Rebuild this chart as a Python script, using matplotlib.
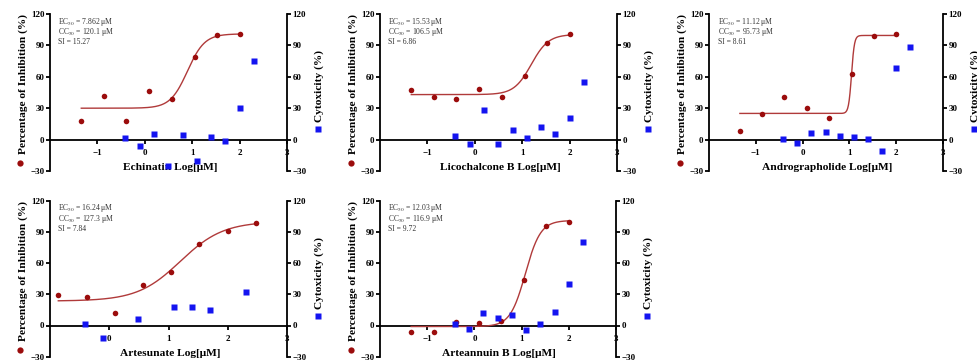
import matplotlib
matplotlib.use("Agg")
import matplotlib.pyplot as plt
import numpy as np

plt.rcParams['font.family'] = ['Liberation Serif', 'DejaVu Serif']
plt.rcParams['mathtext.fontset'] = 'stix'

names = ["Echinatin", "Licochalcone B", "Andrographolide", "Artesunate", "Arteannuin B"]
ec50 = ["7.862", "15.53", "11.12", "16.24", "12.03"]
cc50 = ["120.1", "106.5", "95.73", "127.3", "116.9"]
si = ["15.27", "6.86", "8.61", "7.84", "9.72"]

inh_x_a = [-1.34, -0.86, -0.39, 0.09, 0.57, 1.05, 1.52, 2.0]
inh_x_b = [-0.86, -0.38, 0.10, 0.57, 1.05, 1.52, 2.0, 2.48]
inh_x = [inh_x_a, inh_x_a, inh_x_a, inh_x_b, inh_x_a]
inh_y = [
    [17.9, 41.9, 18.2, 46.7, 38.7, 79.0, 99.5, 100.5],
    [47.4, 41.0, 38.4, 48.6, 41.0, 61.1, 92.2, 100.5],
    [8.3, 24.8, 41.0, 30.6, 20.9, 62.2, 98.7, 101.0],
    [29.7, 27.8, 11.8, 39.0, 51.4, 78.3, 91.1, 99.0],
    [-6.4, -6.4, 3.8, 2.2, 4.5, 44.1, 95.5, 99.7],
]

cyt_x_a = [-0.41, -0.11, 0.19, 0.49, 0.80, 1.10, 1.40, 1.70, 2.00, 2.30]
cyt_x_b = [-0.41, -0.11, 0.49, 1.10, 1.40, 1.70, 2.30]
cyt_x = [cyt_x_a, cyt_x_a, cyt_x_a, cyt_x_b, cyt_x_a]
cyt_y = [
    [1.6, -6.4, 5.1, -25.3, 4.8, -20.5, 2.9, -1.6, 29.8, 75.2],
    [3.5, -4.5, 28.5, -3.8, 9.3, 1.9, 12.5, 5.8, 21.1, 55.4],
    [0.3, -3.3, 6.4, 7.4, 3.5, 2.5, 0.6, -11.3, 68.7, 88.7],
    [1.9, -11.8, 5.8, 17.9, 17.9, 15.3, 32.3],
    [1.9, -2.9, 12.5, 7.0, 10.2, -4.5, 1.9, 12.8, 39.6, 79.9],
]

# fitted 4PL parameters (bottom, top, logEC50, hill)
fit_bottom = [30.0, 43.0, 25.0, 23.5, -1.0]
fit_top = [101.0, 100.5, 99.5, 100.0, 101.0]
fit_logec50 = [0.90, 1.19, 1.045, 1.20, 1.08]
fit_hill = [2.4, 2.4, 14.0, 1.2, 2.7]

xlims = [(-2, 3), (-2, 3), (-2, 3), (-1, 3), (-2, 3)]
xticks_list = [[-1, 0, 1, 2, 3], [-1, 0, 1, 2, 3], [-1, 0, 1, 2, 3], [0, 1, 2, 3], [-1, 0, 1, 2, 3]]
yticks = [-30, 0, 30, 60, 90, 120]

W, H = 977, 360
fig = plt.figure(figsize=(W / 100, H / 100), dpi=100)

# pixel boxes: left, right, top(120), bottom(-30)
boxes = [
    (50, 287, 14, 171),
    (380, 617, 14, 171),
    (709, 943, 14, 171),
    (50, 287, 200.7, 356.7),
    (380, 616, 200.7, 356.7),
]

red = '#9b0c0c'
curve_c = '#b03a3a'
blue = '#1414f0'
lw = 1.3
tick_fs = 6.5

for i in range(5):
    l, r, t, b = boxes[i]
    ax = fig.add_axes([l / W, 1 - b / H, (r - l) / W, (b - t) / H])
    ax.patch.set_alpha(0)
    ax.set_xlim(*xlims[i])
    ax.set_ylim(-30, 120)
    ax.spines['top'].set_visible(False)
    ax.spines['right'].set_visible(False)
    ax.spines['bottom'].set_position(('data', 0))
    for s in ['left', 'bottom']:
        ax.spines[s].set_linewidth(lw)
    ax.set_yticks(yticks)
    ax.set_xticks(xticks_list[i])
    ax.tick_params(axis='y', direction='out', length=3, width=lw, pad=1, labelsize=tick_fs)
    ax.tick_params(axis='x', direction='out', length=3, width=lw, pad=4, labelsize=tick_fs)
    for lab in ax.get_xticklabels() + ax.get_yticklabels():
        lab.set_fontweight('bold')

    # fitted curve
    xs = np.linspace(inh_x[i][0], inh_x[i][-1], 400)
    ys = fit_bottom[i] + (fit_top[i] - fit_bottom[i]) / (1 + 10 ** ((fit_logec50[i] - xs) * fit_hill[i]))
    ax.plot(xs, ys, color=curve_c, lw=1.0, zorder=3)
    ax.plot(inh_x[i], inh_y[i], 'o', color=red, ms=4.0, mec='none', zorder=4)

    ax2 = ax.twinx()
    ax2.set_ylim(-30, 120)
    ax2.set_yticks(yticks)
    for s in ['top', 'left', 'bottom']:
        ax2.spines[s].set_visible(False)
    ax2.spines['right'].set_linewidth(lw)
    ax2.tick_params(axis='y', direction='out', length=3, width=lw, pad=1, labelsize=tick_fs)
    for lab in ax2.get_yticklabels():
        lab.set_fontweight('bold')
    ax2.plot(cyt_x[i], cyt_y[i], 's', color=blue, ms=4.0, mec='none', zorder=4)

    wpx = r - l
    hpx = b - t
    # annotation
    ax.text(8.5 / wpx, 1 - 7.7 / hpx, r"EC$_{50}$ = " + ec50[i] + " μM",
            transform=ax.transAxes, fontsize=5.5, color='#333333', va='center', ha='left')
    ax.text(8.5 / wpx, 1 - 17.9 / hpx, r"CC$_{50}$ = " + cc50[i] + " μM",
            transform=ax.transAxes, fontsize=5.5, color='#333333', va='center', ha='left')
    ax.text(8.5 / wpx, 1 - 28.0 / hpx, "SI = " + si[i],
            transform=ax.transAxes, fontsize=5.5, color='#333333', va='center', ha='left')

    # labels
    ax.text(-27 / wpx, 1 - 70.5 / hpx, "Percentage of Inhibition (%)", rotation=90,
            transform=ax.transAxes, fontsize=8.2, fontweight='bold', ha='center', va='center')
    ax.plot([-29.5 / wpx], [1 - 149.3 / hpx], 'o', color=red, ms=4.5, mec='none',
            transform=ax.transAxes, clip_on=False)
    ax.text((wpx + 32.3) / wpx, 1 - 72 / hpx, "Cytoxicity (%)", rotation=90,
            transform=ax.transAxes, fontsize=8.2, fontweight='bold', ha='center', va='center')
    ax.plot([(wpx + 31.3) / wpx], [1 - 115.3 / hpx], 's', color=blue, ms=4.5, mec='none',
            transform=ax.transAxes, clip_on=False)
    ax.text(0.506, 0.02, names[i] + " Log[μM]", transform=ax.transAxes,
            fontsize=8.2, fontweight='bold', ha='center', va='center')

fig.savefig("out.png", dpi=100)
